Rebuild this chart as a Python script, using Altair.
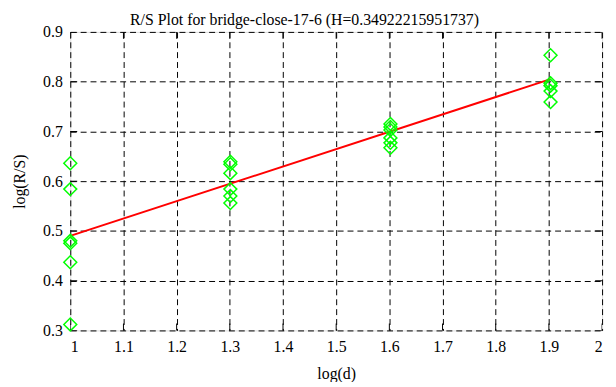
import altair as alt
import pandas as pd

# R/S data points: log(d) and log(R/S)
pts_x = [1.0] * 6 + [1.30103] * 6 + [1.60206] * 6 + [1.90309] * 5
pts_y = [0.636, 0.584, 0.480, 0.475, 0.437, 0.312,
         0.639, 0.634, 0.616, 0.584, 0.570, 0.556,
         0.715, 0.709, 0.703, 0.687, 0.677, 0.667,
         0.853, 0.797, 0.792, 0.781, 0.759]

# fitted line endpoints
fit_x = [1.0, 1.90309]
fit_y = [0.490, 0.805]

x_ticks = [1.0, 1.1, 1.2, 1.3, 1.4, 1.5, 1.6, 1.7, 1.8, 1.9, 2.0]
y_ticks = [0.3, 0.4, 0.5, 0.6, 0.7, 0.8, 0.9]

W, H = 538, 302
FONT = "Liberation Serif"

pts = pd.DataFrame({"x": pts_x, "y": pts_y})
fit = pd.DataFrame({"x": fit_x, "y": fit_y})
xt = pd.DataFrame({"x": x_ticks})
yt = pd.DataFrame({"y": y_ticks})

xscale = alt.Scale(domain=[1, 2], nice=False, zero=False)
yscale = alt.Scale(domain=[0.3, 0.9], nice=False, zero=False)

xaxis = alt.Axis(values=x_ticks, format="~g", title="log(d)", grid=True,
                 gridColor="black", gridDash=[6, 4], gridWidth=1, gridOpacity=1,
                 domain=False, ticks=False, labelPadding=8,
                 labelFont=FONT, labelFontSize=16, labelColor="black",
                 titleFont=FONT, titleFontSize=16, titleFontWeight="normal",
                 titleColor="black", titlePadding=12)
yaxis = alt.Axis(values=y_ticks, format=".1f", title="log(R/S)", grid=True,
                 gridColor="black", gridDash=[6, 4], gridWidth=1, gridOpacity=1,
                 domain=False, ticks=False, labelPadding=8,
                 labelFont=FONT, labelFontSize=16, labelColor="black",
                 titleFont=FONT, titleFontSize=16, titleFontWeight="normal",
                 titleColor="black", titlePadding=15)

base_pts = alt.Chart(pts).mark_point(shape="diamond", size=170, filled=False,
                                     color="#00ff00", strokeWidth=1.5, opacity=1).encode(
    x=alt.X("x:Q", scale=xscale, axis=xaxis),
    y=alt.Y("y:Q", scale=yscale, axis=yaxis),
)

line = alt.Chart(fit).mark_line(color="#ff0000", strokeWidth=2).encode(
    x=alt.X("x:Q", scale=xscale),
    y=alt.Y("y:Q", scale=yscale),
)

tick_kw = dict(color="black", clip=True, size=14, thickness=1, opacity=1)
left_t = alt.Chart(yt).mark_tick(orient="horizontal", **tick_kw).encode(
    y=alt.Y("y:Q", scale=yscale), x=alt.value(0))
right_t = alt.Chart(yt).mark_tick(orient="horizontal", **tick_kw).encode(
    y=alt.Y("y:Q", scale=yscale), x=alt.value(W))
bot_t = alt.Chart(xt).mark_tick(orient="vertical", **tick_kw).encode(
    x=alt.X("x:Q", scale=xscale), y=alt.value(H))
top_t = alt.Chart(xt).mark_tick(orient="vertical", **tick_kw).encode(
    x=alt.X("x:Q", scale=xscale), y=alt.value(0))

chart = alt.layer(left_t, right_t, bot_t, top_t, line, base_pts).properties(
    width=W, height=H,
    title=alt.TitleParams("R/S Plot for bridge-close-17-6 (H=0.34922215951737)",
                          font=FONT, fontSize=16, fontWeight="normal",
                          color="black", offset=-4, anchor="middle",
                          frame="group", dx=-32),
    autosize=alt.AutoSizeParams(type="none"),
    padding={"left": 63, "top": 22, "right": 6, "bottom": 50},
).configure_view(stroke="black", strokeWidth=2).configure(background="white")

chart.save("out.html", embed_options={"renderer": "svg", "actions": False})
